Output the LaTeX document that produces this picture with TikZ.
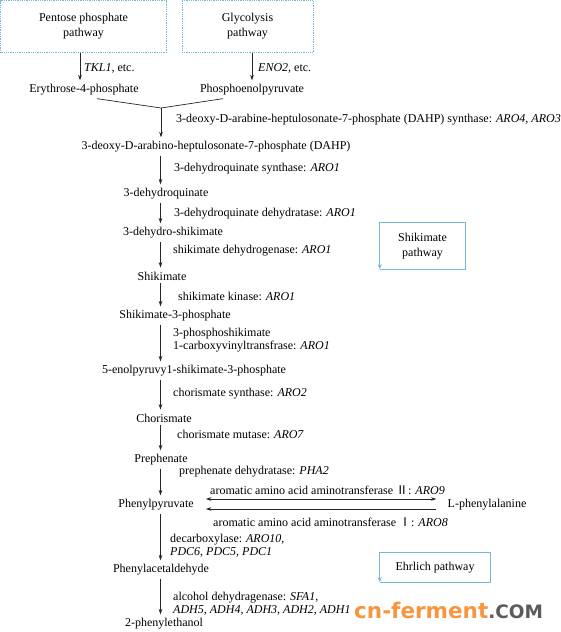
\documentclass[tikz,border=0pt]{standalone}
\usepackage{fontspec}
\setmainfont{Liberation Serif}
\newfontfamily\logofont{DejaVu Sans}
\newfontfamily\cjk{Noto Sans CJK SC}
\usetikzlibrary{arrows.meta, positioning}
\definecolor{boxblue}{HTML}{72B8D8}
\definecolor{logoorange}{HTML}{F7963F}
\definecolor{logogray}{HTML}{5B5B5B}

\begin{document}
\begin{tikzpicture}[x=1pt, y=-1pt, >={Stealth[length=5.5pt, width=3.6pt]},
  font=\fontsize{12}{13}\selectfont,
  cpd/.style={inner sep=3pt},
  enz/.style={anchor=west, align=left, inner sep=1pt},
  rxn/.style={->, draw=black!85, line width=0.7pt, shorten >=1pt},
  srcbox/.style={draw=boxblue, densely dotted, line width=0.8pt, align=center,
    font=\fontsize{12}{15}\selectfont},
  tagbox/.style={align=center, font=\fontsize{12}{15}\selectfont},
  tagline/.style={draw=boxblue, line width=1pt, -{Stealth[length=5pt, width=4pt]}}]
  \useasboundingbox (0,0) rectangle (560,632);

  % precursor pathways
  \node[srcbox, minimum width=166pt, minimum height=52pt] (ppp) at (83.5,26.5) {Pentose phosphate\\pathway};
  \node[srcbox, minimum width=131pt, minimum height=52pt] (glyc) at (247.5,26.5) {Glycolysis\\pathway};
  \node[cpd] (ery) at (84,90) {Erythrose-4-phosphate};
  \node[cpd] (pep) at (252,90) {Phosphoenolpyruvate};
  \draw[rxn] ([xshift=-3.5pt]ppp.south) -- ([xshift=-3.5pt]ppp.south |- ery.north);
  \draw[rxn] (pep.north |- glyc.south) -- (pep.north);
  \node[enz] (tkl) at (83,68) {\textit{TKL1}, etc.};
  \node[enz] (eno) at (257,68) {\textit{ENO2}, etc.};

  % shikimate pathway
  \coordinate (join) at (161,108);
  \coordinate (spine) at (160.5,0);
  \draw[draw=black!85, line width=0.7pt] ([xshift=13pt]ery.south) -- (join) -- ([xshift=-29pt]pep.south);
  \node[cpd] (dahp) at (216,147) {3-deoxy-D-arabino-heptulosonate-7-phosphate (DAHP)};
  \draw[rxn] (join) -- (join |- dahp.north);
  \node[cpd] (dhq) at (166,194) {3-dehydroquinate};
  \node[cpd] (dhs) at (173,233) {3-dehydro-shikimate};
  \node[cpd] (shik) at (162,276) {Shikimate};
  \node[cpd] (s3p) at (175,316) {Shikimate-3-phosphate};
  \node[cpd] (epsp) at (194,371) {5-enolpyruvy1-shikimate-3-phosphate};
  \node[cpd] (chor) at (164,418) {Chorismate};
  \node[cpd] (preph) at (161,460) {Prephenate};

  % Ehrlich pathway
  \node[cpd] (phpyr) at (156,505) {Phenylpyruvate};
  \node[cpd] (lphe) at (487,505) {L-phenylalanine};
  \node[cpd] (phald) at (161,570) {Phenylacetaldehyde};
  \node[cpd] (phet) at (164,624) {2-phenylethanol};

  \foreach \a/\b in {dahp/dhq, dhq/dhs, dhs/shik, shik/s3p, s3p/epsp, epsp/chor,
                     chor/preph, preph/phpyr, phpyr/phald, phald/phet}
    \draw[rxn] (\a.south -| spine) -- (\b.north -| spine);

  \draw[rxn, <->, shorten <=9pt, shorten >=8pt] ([yshift=6pt]phpyr.east) -- ([yshift=6pt]lphe.west);
  \draw[rxn, <-, shorten <=9pt, shorten >=8pt] ([yshift=-4pt]phpyr.east) -- ([yshift=-4pt]lphe.west);

  % enzymes
  \node[enz] (e0) at (175,120) {3-deoxy-D-arabine-heptulosonate-7-phosphate (DAHP) synthase: \textit{ARO4}, \textit{ARO3}};
  \node[enz] (e1) at (173,169) {3-dehydroquinate synthase: \textit{ARO1}};
  \node[enz] (e2) at (173,214) {3-dehydroquinate dehydratase: \textit{ARO1}};
  \node[enz] (e3) at (172,251) {shikimate dehydrogenase: \textit{ARO1}};
  \node[enz] (e4) at (177,296) {shikimate kinase: \textit{ARO1}};
  \node[enz] (e5) at (172,340.5) {3-phosphoshikimate\\1-carboxyvinyltransfrase: \textit{ARO1}};
  \node[enz] (e6) at (172,394) {chorismate synthase: \textit{ARO2}};
  \node[enz] (e7) at (176,434) {chorismate mutase: \textit{ARO7}};
  \node[enz] (e8) at (178,472) {prephenate dehydratase: \textit{PHA2}};
  \node[enz] (e9) at (209,490) {aromatic amino acid aminotransferase {\cjk Ⅱ}: \textit{ARO9}};
  \node[enz] (e10) at (212,522) {aromatic amino acid aminotransferase {\cjk Ⅰ}: \textit{ARO8}};
  \node[enz] (e11) at (169,546) {decarboxylase: \textit{ARO10},\\\textit{PDC6}, \textit{PDC5}, \textit{PDC1}};
  \node[enz] (e12) at (172,603.5) {alcohol dehydragenase: \textit{SFA1},\\\textit{ADH5}, \textit{ADH4}, \textit{ADH3}, \textit{ADH2}, \textit{ADH1}};

  % pathway tags
  \node[tagbox, minimum width=85pt, minimum height=46pt] (shtag) at (422.5,246) {Shikimate\\pathway};
  \draw[tagline] (shtag.south west) -- (shtag.south east) -- (shtag.north east) -- (shtag.north west) -- (shtag.south west);
  \node[tagbox, minimum width=110pt, minimum height=29pt] (ehtag) at (435,567.5) {Ehrlich pathway};
  \draw[tagline] (ehtag.south west) -- (ehtag.south east) -- (ehtag.north east) -- (ehtag.north west) -- (ehtag.south west);

  \node[anchor=west, inner sep=0pt] (logo) at (354,610) {\logofont\bfseries{\fontsize{21.5}{22}\selectfont\color{logoorange}cn-ferment}{\fontsize{18.5}{22}\selectfont\color{logogray}.COM}};
\end{tikzpicture}
\end{document}
